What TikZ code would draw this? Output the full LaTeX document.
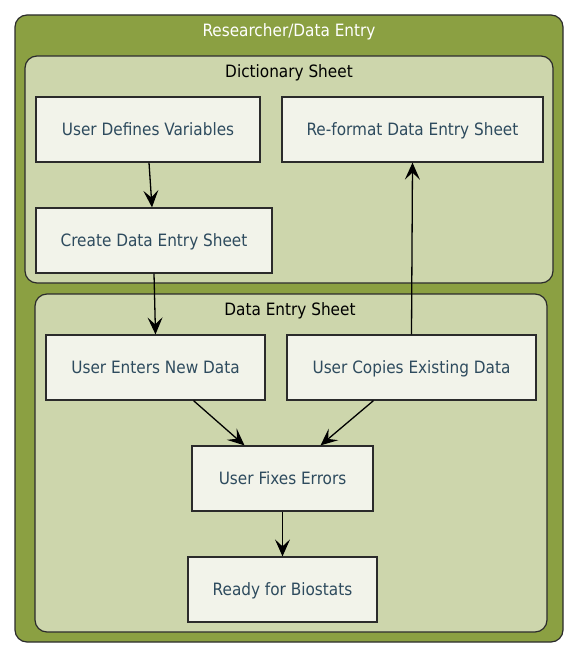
\documentclass[tikz,border=0pt]{standalone}
\usepackage{fontspec}
\setmainfont{DejaVu Sans Condensed}
\usetikzlibrary{arrows.meta}
\definecolor{olive}{HTML}{8BA042}
\definecolor{pale}{HTML}{CDD6AC}
\definecolor{boxfill}{HTML}{F2F3EA}
\definecolor{edge}{HTML}{2B2B2B}
\definecolor{txt}{HTML}{2E4B5E}
\tikzset{
  x=1pt,y=-1pt,
  outerbox/.style={draw=edge,line width=1.2pt,fill=olive,rounded corners=12pt},
  innerbox/.style={draw=edge,line width=1.2pt,fill=pale,rounded corners=12pt},
  stepbox/.style={draw=edge,line width=1.2pt,fill=boxfill,text=txt,font=\fontsize{17}{20}\selectfont,text height=14pt,text depth=1.5pt},
  lbl/.style={font=\fontsize{17}{20}\selectfont,text height=14pt,text depth=1.5pt},
  conn/.style={-{Stealth[length=17pt,width=15pt,inset=7pt]},line width=1.3pt,black}
}
\begin{document}
\begin{tikzpicture}
\useasboundingbox (0,0) rectangle (578,658);
\draw[outerbox] (15,15) rectangle (563,642);
\node[lbl,text=white] (t0) at (289,30) {Researcher/Data Entry};
\draw[innerbox] (25,56) rectangle (553,283);
\node[lbl] (t1) at (289,71) {Dictionary Sheet};
\draw[innerbox] (35,294) rectangle (547,632);
\node[lbl] (t2) at (290,309) {Data Entry Sheet};
\node[stepbox,minimum width=224pt,minimum height=65pt] (udv) at (148,129.5) {User Defines Variables};
\node[stepbox,minimum width=261pt,minimum height=65pt] (ref) at (412.5,129.5) {Re-format Data Entry Sheet};
\node[stepbox,minimum width=236pt,minimum height=65pt] (cdes) at (154,240.5) {Create Data Entry Sheet};
\node[stepbox,minimum width=219pt,minimum height=65pt] (uend) at (155.5,367.5) {User Enters New Data};
\node[stepbox,minimum width=249pt,minimum height=65pt] (uced) at (411.5,367.5) {User Copies Existing Data};
\node[stepbox,minimum width=181pt,minimum height=65pt] (ufe) at (282.5,478.5) {User Fixes Errors};
\node[stepbox,minimum width=189pt,minimum height=65pt] (rfb) at (282.5,589.5) {Ready for Biostats};
\draw[conn] ([xshift=1pt]udv.south) -- ([xshift=-2pt]cdes.north);
\draw[conn] (cdes.south) -- (uend.north);
\draw[conn] (uced.north) -- (ref.north |- ref.south);
\draw[conn] ([xshift=38pt]uend.south) -- ([xshift=-38pt]ufe.north);
\draw[conn] ([xshift=-38pt]uced.south) -- ([xshift=38pt]ufe.north);
\draw[conn] (ufe.south) -- (rfb.north);
\end{tikzpicture}
\end{document}
